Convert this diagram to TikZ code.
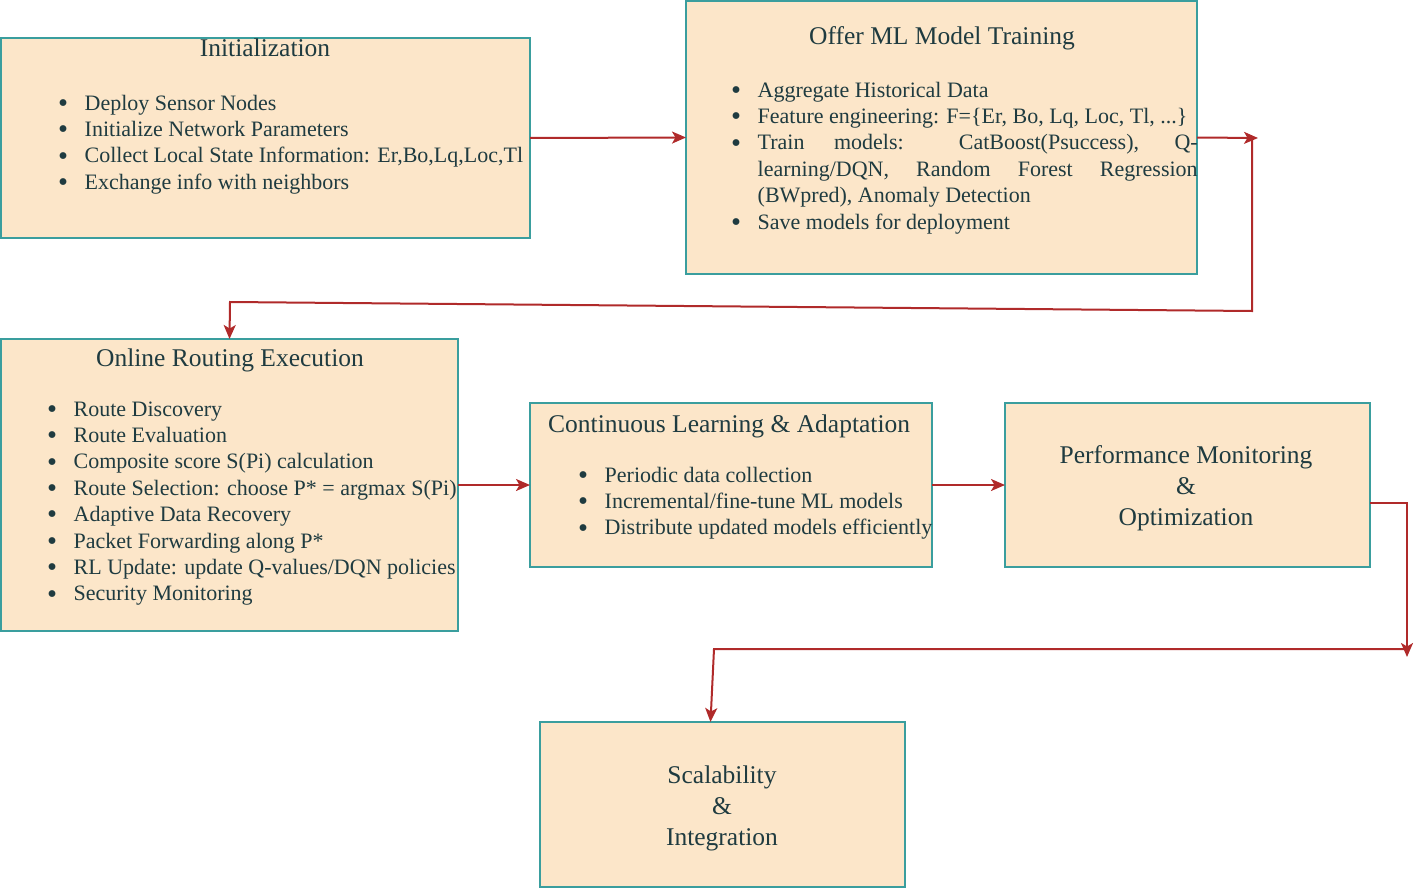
\documentclass[tikz,border=0pt]{standalone}
\usepackage{fontspec}
\setmainfont{Liberation Serif}
\usetikzlibrary{arrows.meta}
\definecolor{boxfill}{HTML}{FCE6C9}
\definecolor{boxline}{HTML}{3A9E9E}
\definecolor{arrowred}{HTML}{B02A2A}
\definecolor{txt}{HTML}{1F3B40}
\newcommand{\bul}{\makebox[0pt]{\raisebox{-2.3pt}{\scalebox{1.3}{\textbullet}}}\hspace{21.5pt}}
\newcommand{\ind}{\hspace*{21.5pt}}
\tikzset{
  box/.style={draw=boxline, fill=boxfill, line width=1.8pt, anchor=north west, inner sep=0pt, outer sep=0pt},
  boxtitle/.style={text=txt, font=\fontsize{25.5}{31}\selectfont, inner sep=0pt, anchor=base},
  bigtext/.style={text=txt, font=\fontsize{25.5}{31}\selectfont, inner sep=0pt, align=center, anchor=base},
  items/.style={text=txt, font=\fontsize{22}{26.4}\selectfont, inner sep=0pt, align=left, anchor=base west},
  link/.style={draw=arrowred, line width=2pt, -{Stealth[length=14pt,width=12pt,inset=3.5pt]}}
}
\begin{document}
\begin{tikzpicture}[x=1pt,y=-1pt]
\useasboundingbox (0,0) rectangle (1423,888);
% boxes
\node[box, minimum width=529pt, minimum height=200pt] (init) at (1,38) {};
\node[box, minimum width=511pt, minimum height=273pt] (offer) at (686,1) {};
\node[box, minimum width=457pt, minimum height=292pt] (online) at (1,339) {};
\node[box, minimum width=402pt, minimum height=164pt] (cont) at (530,403) {};
\node[box, minimum width=365pt, minimum height=164pt] (perf) at (1005,403) {};
\node[box, minimum width=365pt, minimum height=165pt] (scal) at (540,722) {};
% titles (base anchor = baseline of the last line)
\node[boxtitle] (initT) at (265,57) {Initialization};
\node[boxtitle] (offerT) at (942,45) {Offer ML Model Training};
\node[boxtitle] (onlineT) at (230,366) {Online Routing Execution};
\node[boxtitle, anchor=base west] (contT) at (548,432) {Continuous Learning \& Adaptation};
\node[bigtext] (perfT) at (1186,525) {Performance Monitoring\\\&\\Optimization};
\node[bigtext] (scalT) at (722,845) {Scalability\\\&\\Integration};
% lists
\node[items] (initL) at (63,189.2) {\bul Deploy Sensor Nodes\\
\bul Initialize Network Parameters\\
\bul Collect Local State Information: Er,Bo,Lq,Loc,Tl\\
\bul Exchange info with neighbors};
\node[items] (offerL) at (736,229) {\bul Aggregate Historical Data\\
\bul Feature engineering: F=\{Er, Bo, Lq, Loc, Tl, ...\}\\
\bul \makebox[440pt][s]{Train models: CatBoost(Psuccess), Q-}\\
\ind\makebox[440pt][s]{learning/DQN, Random Forest Regression}\\
\ind (BWpred), Anomaly Detection\\
\bul Save models for deployment};
\node[items] (onlineL) at (52,600.8) {\bul Route Discovery\\
\bul Route Evaluation\\
\bul Composite score S(Pi) calculation\\
\bul Route Selection: choose P* = argmax S(Pi)\\
\bul Adaptive Data Recovery\\
\bul Packet Forwarding along P*\\
\bul RL Update: update Q-values/DQN policies\\
\bul Security Monitoring};
\node[items] (contL) at (583,534.8) {\bul Periodic data collection\\
\bul Incremental/fine-tune ML models\\
\bul Distribute updated models efficiently};
% connectors
\coordinate (c1) at (1258,138);
\coordinate (c2) at (1252,138);
\coordinate (c3) at (1252,311);
\coordinate (c4) at (230,302);
\coordinate (d1) at (1407,503);
\coordinate (d2) at (1407,657);
\coordinate (d3) at (1407,649);
\coordinate (d4) at (714,649);
\draw[link] (init.east) -- (offer.west);
\draw[link] (offer.east) -- (c1);
\draw[link] (c2) -- (c3) -- (c4) -- (online.north);
\draw[link] (online.east) -- (cont.west);
\draw[link] (cont.east) -- (perf.west);
\draw[link] ([yshift=-18pt]perf.east) -- (d1) -- (d2);
\draw[link] (d3) -- (d4) -- ([xshift=-12pt]scal.north);
\end{tikzpicture}
\end{document}
